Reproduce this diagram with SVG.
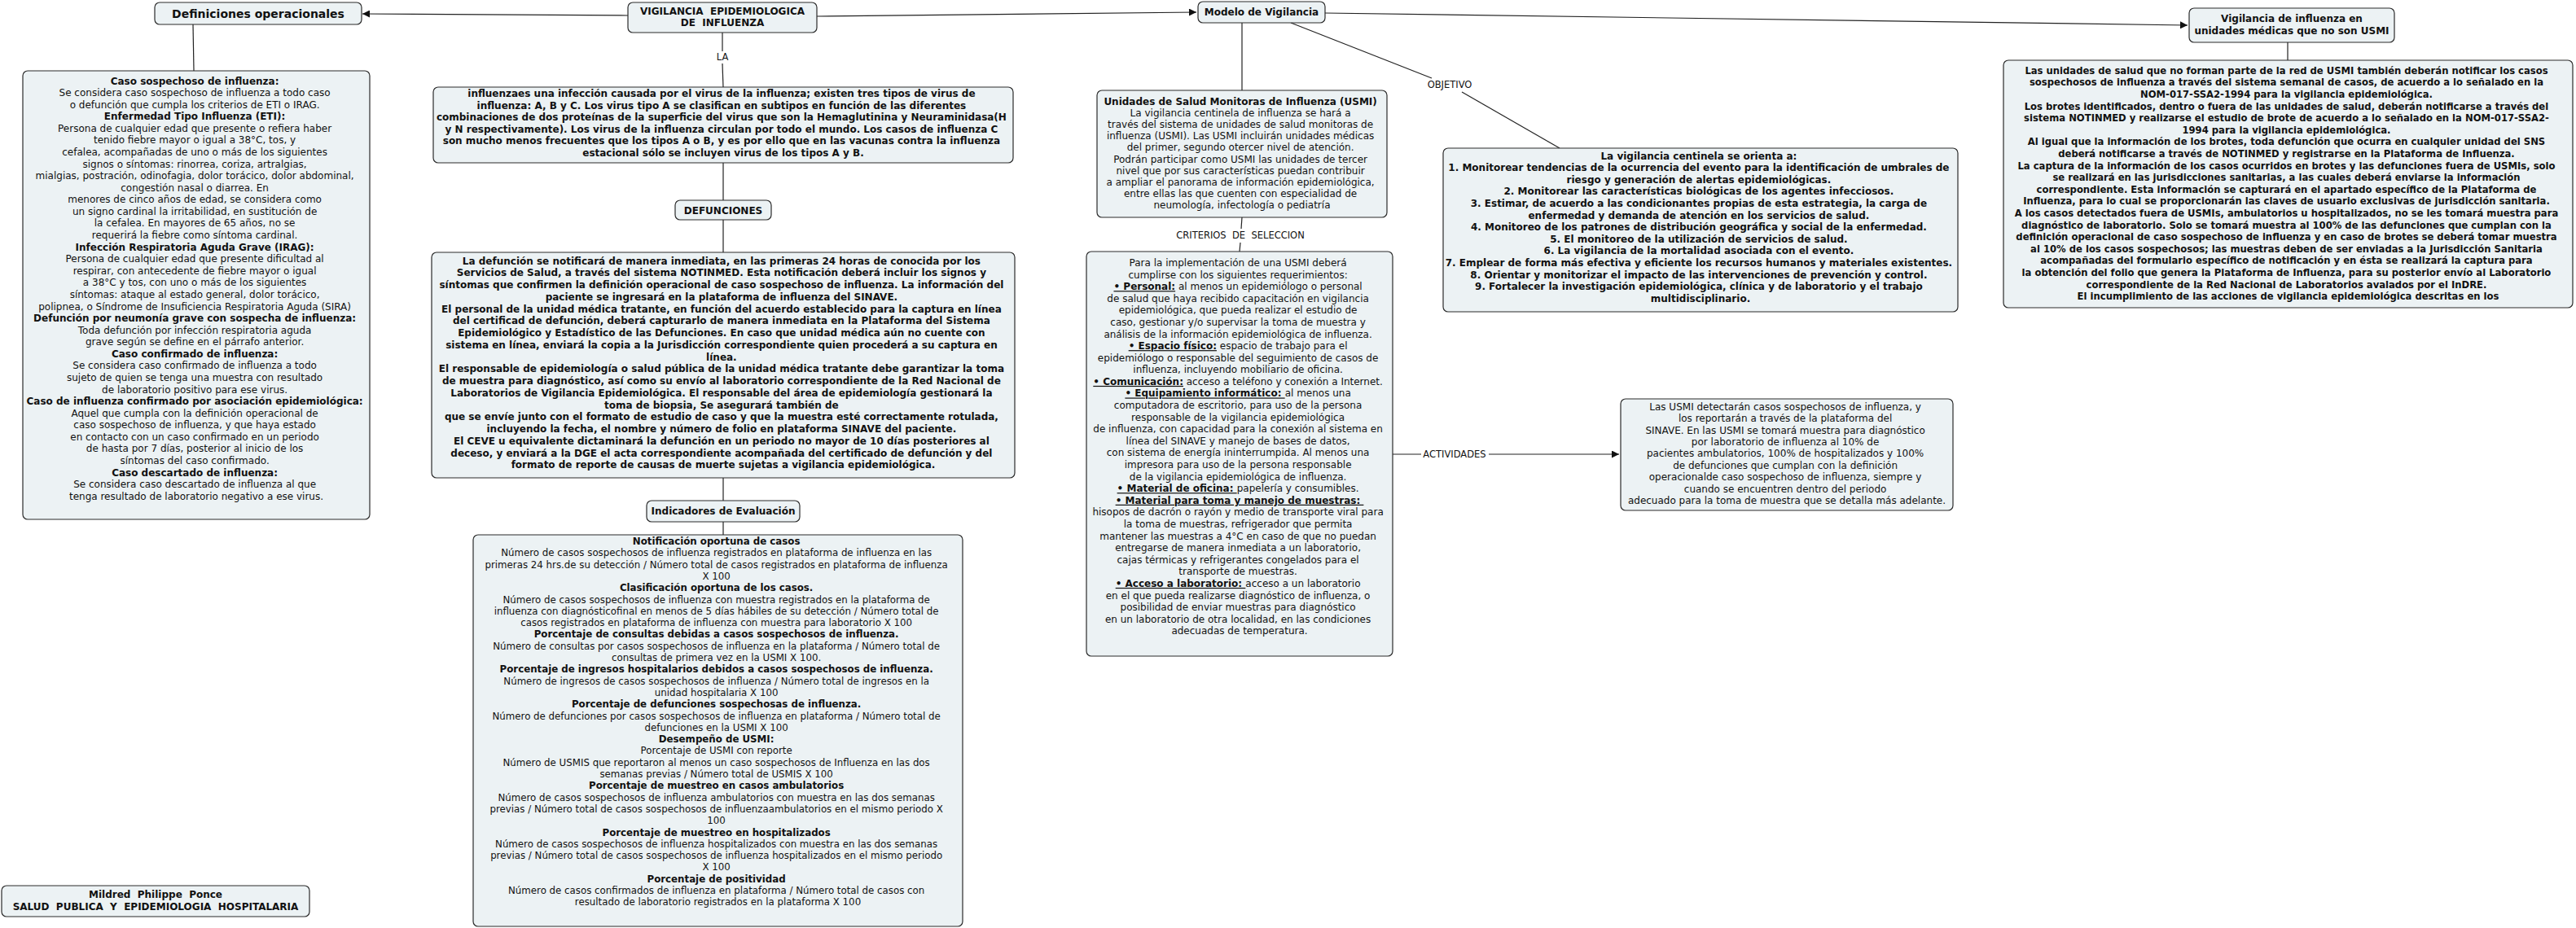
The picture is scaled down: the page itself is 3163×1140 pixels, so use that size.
<svg xmlns="http://www.w3.org/2000/svg" width="3163" height="1140" viewBox="0 0 3163 1140">
<style>
.n rect{fill:#ecf2f4;stroke:#2b2b2b;stroke-width:1.2}
text{font-family:"DejaVu Sans",Verdana,sans-serif;font-size:12px;fill:#111;text-anchor:middle}
.b{font-weight:bold}
.u{font-weight:bold;text-decoration:underline}
.lbl{font-size:11.5px}
.c line,.c path{stroke:#222;stroke-width:1.2;fill:none}
</style>
<defs>
<marker id="ar" viewBox="0 0 10 10" refX="10" refY="5" markerWidth="10" markerHeight="9" markerUnits="userSpaceOnUse" orient="auto"><path d="M0,0 L10,5 L0,10 z" fill="#111"/></marker>
</defs>
<rect width="3163" height="1140" fill="#fff"/>
<g class="c" id="connectors">
<line x1="771" y1="19" x2="445" y2="17" marker-end="url(#ar)"/>
<line x1="1003" y1="20" x2="1469" y2="15" marker-end="url(#ar)"/>
<line x1="1627" y1="16" x2="2686" y2="31" marker-end="url(#ar)"/>
<line x1="237" y1="30" x2="238" y2="87"/>
<line x1="887" y1="40" x2="887" y2="63"/>
<line x1="887" y1="78" x2="888" y2="107"/>
<line x1="888" y1="200" x2="888" y2="246"/>
<line x1="888" y1="270" x2="888" y2="310"/>
<line x1="888" y1="587" x2="888" y2="615"/>
<line x1="888" y1="641" x2="888" y2="657"/>
<line x1="1525" y1="28" x2="1525" y2="111"/>
<line x1="1525" y1="267" x2="1524" y2="281"/>
<line x1="1523" y1="298" x2="1522" y2="309"/>
<line x1="1585" y1="28" x2="1758" y2="96"/>
<line x1="1795" y1="113" x2="1915" y2="182"/>
<line x1="2809" y1="52" x2="2809" y2="74"/>
<line x1="1710" y1="558" x2="1745" y2="558"/>
<line x1="1828" y1="558" x2="1988" y2="558" marker-end="url(#ar)"/>
<text class="lbl" x="887" y="74">LA</text>
<text class="lbl" x="1523" y="293">CRITERIOS&#160; DE&#160; SELECCION</text>
<text class="lbl" x="1780" y="108">OBJETIVO</text>
<text class="lbl" x="1786" y="562">ACTIVIDADES</text>
</g>
<g class="n" id="n-definiciones">
<rect x="190" y="3" width="254" height="27" rx="6"/>
<text class="b" x="317" y="21.5" style="font-size:14px">Definiciones operacionales</text>
</g>
<g class="n" id="n-vigilancia">
<rect x="771" y="3" width="232" height="37" rx="6"/>
<text class="b" x="887" y="18">VIGILANCIA&#160; EPIDEMIOLOGICA</text>
<text class="b" x="887" y="32">DE&#160; INFLUENZA</text>
</g>
<g class="n" id="n-modelo">
<rect x="1471" y="2" width="156" height="26" rx="6"/>
<text class="b" x="1549" y="19">Modelo de Vigilancia</text>
</g>
<g class="n" id="n-nousmi">
<rect x="2688" y="10" width="252" height="42" rx="6"/>
<text class="b" x="2814" y="27">Vigilancia de influenza en</text>
<text class="b" x="2814" y="42">unidades médicas que no son USMI</text>
</g>
<g class="n" id="n-casos">
<rect x="28" y="87" width="426" height="551" rx="6"/>
<text x="241" y="103.5">
<tspan x="241" dy="0" class="b">Caso sospechoso de influenza:</tspan>
<tspan x="241" dy="14.58">Se considera caso sospechoso de influenza a todo caso</tspan>
<tspan x="241" dy="14.58">o defunción que cumpla los criterios de ETI o IRAG.</tspan>
<tspan x="241" dy="14.58" class="b">Enfermedad Tipo Influenza (ETI):</tspan>
<tspan x="241" dy="14.58">Persona de cualquier edad que presente o refiera haber</tspan>
<tspan x="241" dy="14.58">tenido fiebre mayor o igual a 38°C, tos, y</tspan>
<tspan x="241" dy="14.58">cefalea, acompañadas de uno o más de los siguientes</tspan>
<tspan x="241" dy="14.58">signos o síntomas: rinorrea, coriza, artralgias,</tspan>
<tspan x="241" dy="14.58">mialgias, postración, odinofagia, dolor torácico, dolor abdominal,</tspan>
<tspan x="241" dy="14.58">congestión nasal o diarrea. En</tspan>
<tspan x="241" dy="14.58">menores de cinco años de edad, se considera como</tspan>
<tspan x="241" dy="14.58">un signo cardinal la irritabilidad, en sustitución de</tspan>
<tspan x="241" dy="14.58">la cefalea. En mayores de 65 años, no se</tspan>
<tspan x="241" dy="14.58">requerirá la fiebre como síntoma cardinal.</tspan>
<tspan x="241" dy="14.58" class="b">Infección Respiratoria Aguda Grave (IRAG):</tspan>
<tspan x="241" dy="14.58">Persona de cualquier edad que presente dificultad al</tspan>
<tspan x="241" dy="14.58">respirar, con antecedente de fiebre mayor o igual</tspan>
<tspan x="241" dy="14.58">a 38°C y tos, con uno o más de los siguientes</tspan>
<tspan x="241" dy="14.58">síntomas: ataque al estado general, dolor torácico,</tspan>
<tspan x="241" dy="14.58">polipnea, o Síndrome de Insuficiencia Respiratoria Aguda (SIRA)</tspan>
<tspan x="241" dy="14.58" class="b">Defunción por neumonía grave con sospecha de influenza:</tspan>
<tspan x="241" dy="14.58">Toda defunción por infección respiratoria aguda</tspan>
<tspan x="241" dy="14.58">grave según se define en el párrafo anterior.</tspan>
<tspan x="241" dy="14.58" class="b">Caso confirmado de influenza:</tspan>
<tspan x="241" dy="14.58">Se considera caso confirmado de influenza a todo</tspan>
<tspan x="241" dy="14.58">sujeto de quien se tenga una muestra con resultado</tspan>
<tspan x="241" dy="14.58">de laboratorio positivo para ese virus.</tspan>
<tspan x="241" dy="14.58" class="b">Caso de influenza confirmado por asociación epidemiológica:</tspan>
<tspan x="241" dy="14.58">Aquel que cumpla con la definición operacional de</tspan>
<tspan x="241" dy="14.58">caso sospechoso de influenza, y que haya estado</tspan>
<tspan x="241" dy="14.58">en contacto con un caso confirmado en un periodo</tspan>
<tspan x="241" dy="14.58">de hasta por 7 días, posterior al inicio de los</tspan>
<tspan x="241" dy="14.58">síntomas del caso confirmado.</tspan>
<tspan x="241" dy="14.58" class="b">Caso descartado de influenza:</tspan>
<tspan x="241" dy="14.58">Se considera caso descartado de influenza al que</tspan>
<tspan x="241" dy="14.58">tenga resultado de laboratorio negativo a ese virus.</tspan>
</text>
</g>
<g class="n" id="n-influenza">
<rect x="532" y="107" width="712" height="93" rx="6"/>
<text class="b" x="888" y="119">
<tspan x="888" dy="0">influenzaes una infección causada por el virus de la influenza; existen tres tipos de virus de</tspan>
<tspan x="888" dy="14.6">influenza: A, B y C. Los virus tipo A se clasifican en subtipos en función de las diferentes</tspan>
<tspan x="888" dy="14.6">combinaciones de dos proteínas de la superficie del virus que son la Hemaglutinina y Neuraminidasa(H</tspan>
<tspan x="888" dy="14.6">y N respectivamente). Los virus de la influenza circulan por todo el mundo. Los casos de influenza C</tspan>
<tspan x="888" dy="14.6">son mucho menos frecuentes que los tipos A o B, y es por ello que en las vacunas contra la influenza</tspan>
<tspan x="888" dy="14.6">estacional sólo se incluyen virus de los tipos A y B.</tspan>
</text>
</g>
<g class="n" id="n-defunciones-lbl">
<rect x="829" y="246" width="118" height="24" rx="6"/>
<text class="b" x="888" y="262.5">DEFUNCIONES</text>
</g>
<g class="n" id="n-defunciones">
<rect x="530" y="310" width="716" height="277" rx="6"/>
<text class="b" x="888" y="324.5">
<tspan x="888" dy="0">La defunción se notificará de manera inmediata, en las primeras 24 horas de conocida por los</tspan>
<tspan x="888" dy="14.75">Servicios de Salud, a través del sistema NOTINMED. Esta notificación deberá incluir los signos y</tspan>
<tspan x="888" dy="14.75">síntomas que confirmen la definición operacional de caso sospechoso de influenza. La información del</tspan>
<tspan x="888" dy="14.75">paciente se ingresará en la plataforma de influenza del SINAVE.</tspan>
<tspan x="888" dy="14.75">El personal de la unidad médica tratante, en función del acuerdo establecido para la captura en línea</tspan>
<tspan x="888" dy="14.75">del certificad de defunción, deberá capturarlo de manera inmediata en la Plataforma del Sistema</tspan>
<tspan x="888" dy="14.75">Epidemiológico y Estadístico de las Defunciones. En caso que unidad médica aún no cuente con</tspan>
<tspan x="888" dy="14.75">sistema en línea, enviará la copia a la Jurisdicción correspondiente quien procederá a su captura en</tspan>
<tspan x="888" dy="14.75">línea.</tspan>
<tspan x="888" dy="14.75">El responsable de epidemiología o salud pública de la unidad médica tratante debe garantizar la toma</tspan>
<tspan x="888" dy="14.75">de muestra para diagnóstico, así como su envío al laboratorio correspondiente de la Red Nacional de</tspan>
<tspan x="888" dy="14.75">Laboratorios de Vigilancia Epidemiológica. El responsable del área de epidemiología gestionará la</tspan>
<tspan x="888" dy="14.75">toma de biopsia, Se asegurará también de</tspan>
<tspan x="888" dy="14.75">que se envíe junto con el formato de estudio de caso y que la muestra esté correctamente rotulada,</tspan>
<tspan x="888" dy="14.75">incluyendo la fecha, el nombre y número de folio en plataforma SINAVE del paciente.</tspan>
<tspan x="888" dy="14.75">El CEVE u equivalente dictaminará la defunción en un periodo no mayor de 10 días posteriores al</tspan>
<tspan x="888" dy="14.75">deceso, y enviará a la DGE el acta correspondiente acompañada del certificado de defunción y del</tspan>
<tspan x="888" dy="14.75">formato de reporte de causas de muerte sujetas a vigilancia epidemiológica.</tspan>
</text>
</g>
<g class="n" id="n-indicadores-lbl">
<rect x="794" y="615" width="188" height="26" rx="6"/>
<text class="b" x="888" y="632">Indicadores de Evaluación</text>
</g>
<g class="n" id="n-indicadores">
<rect x="581" y="657" width="601" height="481" rx="6"/>
<text x="881.5" y="669" style="font-size:11.8px">
<tspan x="881.5" dy="0" class="b">Notificación oportuna de casos</tspan>
<tspan x="881.5" dy="14.3">Número de casos sospechosos de influenza registrados en plataforma de influenza en las</tspan>
<tspan x="881.5" dy="14.3">primeras 24 hrs.de su detección / Número total de casos registrados en plataforma de influenza</tspan>
<tspan x="881.5" dy="14.3">X 100</tspan>
<tspan x="881.5" dy="14.3" class="b">Clasificación oportuna de los casos.</tspan>
<tspan x="881.5" dy="14.3">Número de casos sospechosos de influenza con muestra registrados en la plataforma de</tspan>
<tspan x="881.5" dy="14.3">influenza con diagnósticofinal en menos de 5 días hábiles de su detección / Número total de</tspan>
<tspan x="881.5" dy="14.3">casos registrados en plataforma de influenza con muestra para laboratorio X 100</tspan>
<tspan x="881.5" dy="14.3" class="b">Porcentaje de consultas debidas a casos sospechosos de influenza.</tspan>
<tspan x="881.5" dy="14.3">Número de consultas por casos sospechosos de influenza en la plataforma / Número total de</tspan>
<tspan x="881.5" dy="14.3">consultas de primera vez en la USMI X 100.</tspan>
<tspan x="881.5" dy="14.3" class="b">Porcentaje de ingresos hospitalarios debidos a casos sospechosos de influenza.</tspan>
<tspan x="881.5" dy="14.3">Número de ingresos de casos sospechosos de influenza / Número total de ingresos en la</tspan>
<tspan x="881.5" dy="14.3">unidad hospitalaria X 100</tspan>
<tspan x="881.5" dy="14.3" class="b">Porcentaje de defunciones sospechosas de influenza.</tspan>
<tspan x="881.5" dy="14.3">Número de defunciones por casos sospechosos de influenza en plataforma / Número total de</tspan>
<tspan x="881.5" dy="14.3">defunciones en la USMI X 100</tspan>
<tspan x="881.5" dy="14.3" class="b">Desempeño de USMI:</tspan>
<tspan x="881.5" dy="14.3">Porcentaje de USMI con reporte</tspan>
<tspan x="881.5" dy="14.3">Número de USMIS que reportaron al menos un caso sospechosos de Influenza en las dos</tspan>
<tspan x="881.5" dy="14.3">semanas previas / Número total de USMIS X 100</tspan>
<tspan x="881.5" dy="14.3" class="b">Porcentaje de muestreo en casos ambulatorios</tspan>
<tspan x="881.5" dy="14.3">Número de casos sospechosos de influenza ambulatorios con muestra en las dos semanas</tspan>
<tspan x="881.5" dy="14.3">previas / Número total de casos sospechosos de influenzaambulatorios en el mismo periodo X</tspan>
<tspan x="881.5" dy="14.3">100</tspan>
<tspan x="881.5" dy="14.3" class="b">Porcentaje de muestreo en hospitalizados</tspan>
<tspan x="881.5" dy="14.3">Número de casos sospechosos de influenza hospitalizados con muestra en las dos semanas</tspan>
<tspan x="881.5" dy="14.3">previas / Número total de casos sospechosos de influenza hospitalizados en el mismo periodo</tspan>
<tspan x="881.5" dy="14.3">X 100</tspan>
<tspan x="881.5" dy="14.3" class="b">Porcentaje de positividad</tspan>
<tspan x="881.5" dy="14.3">Número de casos confirmados de influenza en plataforma / Número total de casos con</tspan>
<tspan x="881.5" dy="14.3">resultado de laboratorio registrados en la plataforma X 100</tspan>
</text>
</g>
<g class="n" id="n-usmi">
<rect x="1347" y="111" width="356" height="156" rx="6"/>
<text x="1525" y="129">
<tspan x="1525" dy="0" class="b">Unidades de Salud Monitoras de Influenza (USMI)</tspan>
<tspan x="1525" dy="14.1">La vigilancia centinela de influenza se hará a</tspan>
<tspan x="1525" dy="14.1">través del sistema de unidades de salud monitoras de</tspan>
<tspan x="1525" dy="14.1">influenza (USMI). Las USMI incluirán unidades médicas</tspan>
<tspan x="1525" dy="14.1">del primer, segundo otercer nivel de atención.</tspan>
<tspan x="1525" dy="14.1">Podrán participar como USMI las unidades de tercer</tspan>
<tspan x="1525" dy="14.1">nivel que por sus características puedan contribuir</tspan>
<tspan x="1525" dy="14.1">a ampliar el panorama de información epidemiológica,</tspan>
<tspan x="1525" dy="14.1">entre ellas las que cuenten con especialidad de</tspan>
<tspan x="1525" dy="14.1">neumología, infectología o pediatría</tspan>
</text>
</g>
<g class="n" id="n-criterios">
<rect x="1334" y="309" width="376" height="497" rx="6"/>
<text x="1522" y="327">
<tspan x="1522" dy="0">Para la implementación de una USMI deberá</tspan>
<tspan x="1522" dy="14.59">cumplirse con los siguientes requerimientos:</tspan>
<tspan x="1522" dy="14.59"><tspan class="u">• Personal:</tspan> al menos un epidemiólogo o personal</tspan>
<tspan x="1522" dy="14.59">de salud que haya recibido capacitación en vigilancia</tspan>
<tspan x="1522" dy="14.59">epidemiológica, que pueda realizar el estudio de</tspan>
<tspan x="1522" dy="14.59">caso, gestionar y/o supervisar la toma de muestra y</tspan>
<tspan x="1522" dy="14.59">análisis de la información epidemiológica de influenza.</tspan>
<tspan x="1522" dy="14.59"><tspan class="u">• Espacio físico:</tspan> espacio de trabajo para el</tspan>
<tspan x="1522" dy="14.59">epidemiólogo o responsable del seguimiento de casos de</tspan>
<tspan x="1522" dy="14.59">influenza, incluyendo mobiliario de oficina.</tspan>
<tspan x="1522" dy="14.59"><tspan class="u">• Comunicación:</tspan> acceso a teléfono y conexión a Internet.</tspan>
<tspan x="1522" dy="14.59"><tspan class="u">• Equipamiento informático: </tspan>al menos una</tspan>
<tspan x="1522" dy="14.59">computadora de escritorio, para uso de la persona</tspan>
<tspan x="1522" dy="14.59">responsable de la vigilancia epidemiológica</tspan>
<tspan x="1522" dy="14.59">de influenza, con capacidad para la conexión al sistema en</tspan>
<tspan x="1522" dy="14.59">línea del SINAVE y manejo de bases de datos,</tspan>
<tspan x="1522" dy="14.59">con sistema de energía ininterrumpida. Al menos una</tspan>
<tspan x="1522" dy="14.59">impresora para uso de la persona responsable</tspan>
<tspan x="1522" dy="14.59">de la vigilancia epidemiológica de influenza.</tspan>
<tspan x="1522" dy="14.59"><tspan class="u">• Material de oficina: </tspan>papelería y consumibles.</tspan>
<tspan x="1522" dy="14.59"><tspan class="u">• Material para toma y manejo de muestras: </tspan></tspan>
<tspan x="1522" dy="14.59">hisopos de dacrón o rayón y medio de transporte viral para</tspan>
<tspan x="1522" dy="14.59">la toma de muestras, refrigerador que permita</tspan>
<tspan x="1522" dy="14.59">mantener las muestras a 4°C en caso de que no puedan</tspan>
<tspan x="1522" dy="14.59">entregarse de manera inmediata a un laboratorio,</tspan>
<tspan x="1522" dy="14.59">cajas térmicas y refrigerantes congelados para el</tspan>
<tspan x="1522" dy="14.59">transporte de muestras.</tspan>
<tspan x="1522" dy="14.59"><tspan class="u">• Acceso a laboratorio: </tspan>acceso a un laboratorio</tspan>
<tspan x="1522" dy="14.59">en el que pueda realizarse diagnóstico de influenza, o</tspan>
<tspan x="1522" dy="14.59">posibilidad de enviar muestras para diagnóstico</tspan>
<tspan x="1522" dy="14.59">en un laboratorio de otra localidad, en las condiciones</tspan>
<tspan x="1522" dy="14.59">adecuadas de temperatura.</tspan>
</text>
</g>
<g class="n" id="n-centinela">
<rect x="1772" y="182" width="632" height="201" rx="6"/>
<text class="b" x="2088" y="195.7">
<tspan x="2088" dy="0">La vigilancia centinela se orienta a:</tspan>
<tspan x="2088" dy="14.58">1. Monitorear tendencias de la ocurrencia del evento para la identificación de umbrales de</tspan>
<tspan x="2088" dy="14.58">riesgo y generación de alertas epidemiológicas.</tspan>
<tspan x="2088" dy="14.58">2. Monitorear las características biológicas de los agentes infecciosos.</tspan>
<tspan x="2088" dy="14.58">3. Estimar, de acuerdo a las condicionantes propias de esta estrategia, la carga de</tspan>
<tspan x="2088" dy="14.58">enfermedad y demanda de atención en los servicios de salud.</tspan>
<tspan x="2088" dy="14.58">4. Monitoreo de los patrones de distribución geográfica y social de la enfermedad.</tspan>
<tspan x="2088" dy="14.58">5. El monitoreo de la utilización de servicios de salud.</tspan>
<tspan x="2088" dy="14.58">6. La vigilancia de la mortalidad asociada con el evento.</tspan>
<tspan x="2088" dy="14.58">7. Emplear de forma más efectiva y eficiente los recursos humanos y materiales existentes.</tspan>
<tspan x="2088" dy="14.58">8. Orientar y monitorizar el impacto de las intervenciones de prevención y control.</tspan>
<tspan x="2088" dy="14.58">9. Fortalecer la investigación epidemiológica, clínica y de laboratorio y el trabajo</tspan>
<tspan x="2088" dy="14.58">multidisciplinario.</tspan>
</text>
</g>
<g class="n" id="n-actividades">
<rect x="1990" y="490" width="408" height="137" rx="6"/>
<text x="2194" y="503.8">
<tspan x="2194" dy="0">Las USMI detectarán casos sospechosos de influenza, y</tspan>
<tspan x="2194" dy="14.4">los reportarán a través de la plataforma del</tspan>
<tspan x="2194" dy="14.4">SINAVE. En las USMI se tomará muestra para diagnóstico</tspan>
<tspan x="2194" dy="14.4">por laboratorio de influenza al 10% de</tspan>
<tspan x="2194" dy="14.4">pacientes ambulatorios, 100% de hospitalizados y 100%</tspan>
<tspan x="2194" dy="14.4">de defunciones que cumplan con la definición</tspan>
<tspan x="2194" dy="14.4">operacionalde caso sospechoso de influenza, siempre y</tspan>
<tspan x="2194" dy="14.4">cuando se encuentren dentro del periodo</tspan>
<tspan x="2194" dy="14.4">adecuado para la toma de muestra que se detalla más adelante.</tspan>
</text>
</g>
<g class="n" id="n-nousmi-texto">
<rect x="2460" y="74" width="699" height="304" rx="6"/>
<text class="b" x="2809.5" y="90.7" style="font-size:11.6px">
<tspan x="2809.5" dy="0">Las unidades de salud que no forman parte de la red de USMI también deberán notificar los casos</tspan>
<tspan x="2809.5" dy="14.6">sospechosos de influenza a través del sistema semanal de casos, de acuerdo a lo señalado en la</tspan>
<tspan x="2809.5" dy="14.6">NOM-017-SSA2-1994 para la vigilancia epidemiológica.</tspan>
<tspan x="2809.5" dy="14.6">Los brotes identificados, dentro o fuera de las unidades de salud, deberán notificarse a través del</tspan>
<tspan x="2809.5" dy="14.6">sistema NOTINMED y realizarse el estudio de brote de acuerdo a lo señalado en la NOM-017-SSA2-</tspan>
<tspan x="2809.5" dy="14.6">1994 para la vigilancia epidemiológica.</tspan>
<tspan x="2809.5" dy="14.6">Al igual que la información de los brotes, toda defunción que ocurra en cualquier unidad del SNS</tspan>
<tspan x="2809.5" dy="14.6">deberá notificarse a través de NOTINMED y registrarse en la Plataforma de Influenza.</tspan>
<tspan x="2809.5" dy="14.6">La captura de la información de los casos ocurridos en brotes y las defunciones fuera de USMIs, solo</tspan>
<tspan x="2809.5" dy="14.6">se realizará en las jurisdicciones sanitarias, a las cuales deberá enviarse la información</tspan>
<tspan x="2809.5" dy="14.6">correspondiente. Esta información se capturará en el apartado específico de la Plataforma de</tspan>
<tspan x="2809.5" dy="14.6">Influenza, para lo cual se proporcionarán las claves de usuario exclusivas de jurisdicción sanitaria.</tspan>
<tspan x="2809.5" dy="14.6">A los casos detectados fuera de USMIs, ambulatorios u hospitalizados, no se les tomará muestra para</tspan>
<tspan x="2809.5" dy="14.6">diagnóstico de laboratorio. Solo se tomará muestra al 100% de las defunciones que cumplan con la</tspan>
<tspan x="2809.5" dy="14.6">definición operacional de caso sospechoso de influenza y en caso de brotes se deberá tomar muestra</tspan>
<tspan x="2809.5" dy="14.6">al 10% de los casos sospechosos; las muestras deben de ser enviadas a la Jurisdicción Sanitaria</tspan>
<tspan x="2809.5" dy="14.6">acompañadas del formulario específico de notificación y en ésta se realizará la captura para</tspan>
<tspan x="2809.5" dy="14.6">la obtención del folio que genera la Plataforma de Influenza, para su posterior envío al Laboratorio</tspan>
<tspan x="2809.5" dy="14.6">correspondiente de la Red Nacional de Laboratorios avalados por el InDRE.</tspan>
<tspan x="2809.5" dy="14.6">El incumplimiento de las acciones de vigilancia epidemiológica descritas en los</tspan>
</text>
</g>
<g class="n" id="n-autor">
<rect x="2" y="1088" width="378" height="38" rx="6"/>
<text class="b" x="191" y="1103">Mildred&#160; Philippe&#160; Ponce</text>
<text class="b" x="191" y="1118">SALUD&#160; PUBLICA&#160; Y&#160; EPIDEMIOLOGIA&#160; HOSPITALARIA</text>
</g>
</svg>
